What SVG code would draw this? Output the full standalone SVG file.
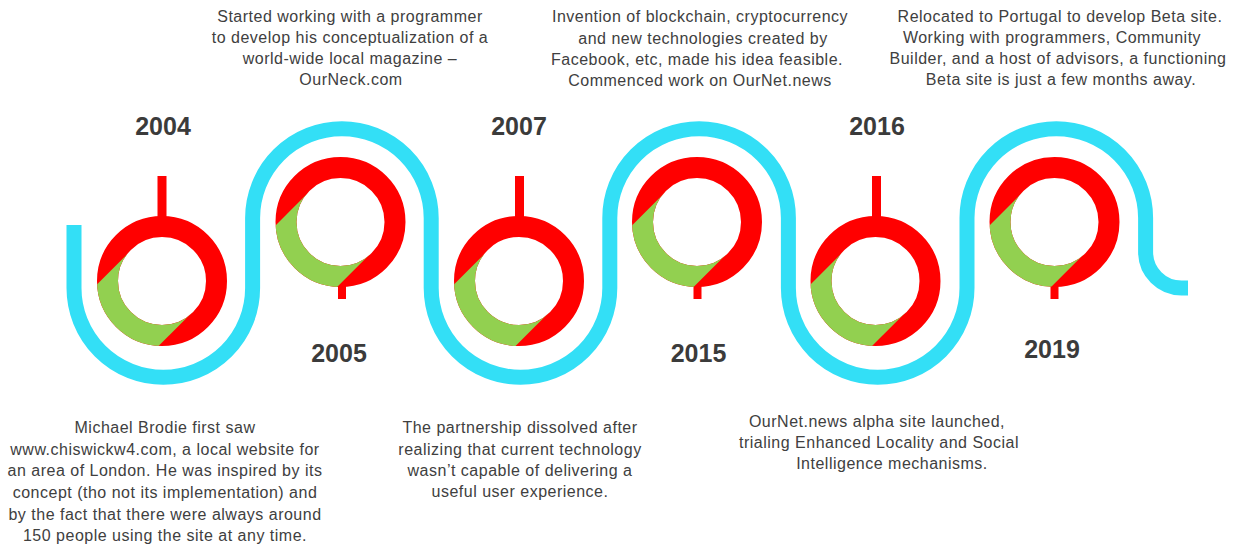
<svg xmlns="http://www.w3.org/2000/svg" width="1237" height="546" viewBox="0 0 1237 546">
<style>
.wave{fill:none;stroke:#33DFF6;stroke-width:15}
.yr{font-family:"Liberation Sans",Arial,sans-serif;font-weight:bold;font-size:25px;fill:#3B3B3B;text-anchor:middle}
.desc{font-family:"Liberation Sans",Arial,sans-serif;font-size:16px;letter-spacing:0.5px;fill:#404040;text-anchor:middle}
.stem{fill:#FF0000}
</style>
<defs>
<clipPath id="gclip" clipPathUnits="userSpaceOnUse"><polygon points="-30.8,-30.8 30.8,30.8 -40,101.5 -101.5,40"/></clipPath>
<g id="ring">
<circle r="54.5" fill="none" stroke="#FF0000" stroke-width="21"/>
<circle r="54.5" fill="none" stroke="#92D050" stroke-width="21" clip-path="url(#gclip)"/>
</g>
</defs>
<rect width="1237" height="546" fill="#FFFFFF"/>
<g id="connectors">
<path class="wave" d="M74,225 V288 A89.3,89.3 0 0 0 252.6,288 V218 A89.3,89.3 0 0 1 431.2,218 V288 A89.3,89.3 0 0 0 609.8,288 V218 A89.3,89.3 0 0 1 788.4,218 V288 A89.3,89.3 0 0 0 967,288 V218 A89.3,89.3 0 0 1 1145.6,218 V252 A36,36 0 0 0 1181.6,288 H1188"/>
</g>
<g id="m2004">
<rect class="stem" x="157.5" y="176" width="9" height="44"/>
<use href="#ring" transform="translate(162,281)"/>
<text class="yr" x="163" y="135">2004</text>
<text class="desc"><tspan x="165" y="433">Michael Brodie first saw</tspan><tspan x="165" y="455">www.chiswickw4.com, a local website for</tspan><tspan x="165" y="476">an area of London. He was inspired by its</tspan><tspan x="165" y="498">concept (tho not its implementation) and</tspan><tspan x="165" y="520">by the fact that there were always around</tspan><tspan x="165" y="541">150 people using the site at any time.</tspan></text>
</g>
<g id="m2005">
<rect class="stem" x="338" y="283" width="8" height="16"/>
<use href="#ring" transform="translate(340.5,222)"/>
<text class="yr" x="339" y="362">2005</text>
<text class="desc"><tspan x="350" y="22">Started working with a programmer</tspan><tspan x="350" y="43">to develop his conceptualization of a</tspan><tspan x="350" y="64">world-wide local magazine –</tspan><tspan x="351" y="85">OurNeck.com</tspan></text>
</g>
<g id="m2007">
<rect class="stem" x="515" y="176" width="9" height="44"/>
<use href="#ring" transform="translate(519,281)"/>
<text class="yr" x="519" y="135">2007</text>
<text class="desc"><tspan x="520" y="433">The partnership dissolved after</tspan><tspan x="520" y="455">realizing that current technology</tspan><tspan x="520" y="476">wasn’t capable of delivering a</tspan><tspan x="520" y="497">useful user experience.</tspan></text>
</g>
<g id="m2015">
<rect class="stem" x="693.5" y="283" width="8" height="16"/>
<use href="#ring" transform="translate(697,222)"/>
<text class="yr" x="698.5" y="362">2015</text>
<text class="desc"><tspan x="700" y="22">Invention of blockchain, cryptocurrency</tspan><tspan x="703" y="44">and new technologies created by</tspan><tspan x="697" y="65">Facebook, etc, made his idea feasible.</tspan><tspan x="700" y="86">Commenced work on OurNet.news</tspan></text>
</g>
<g id="m2016">
<rect class="stem" x="872" y="176" width="9" height="44"/>
<use href="#ring" transform="translate(875.5,281)"/>
<text class="yr" x="877" y="135">2016</text>
<text class="desc"><tspan x="877" y="427">OurNet.news alpha site launched,</tspan><tspan x="879" y="448">trialing Enhanced Locality and Social</tspan><tspan x="892" y="469">Intelligence mechanisms.</tspan></text>
</g>
<g id="m2019">
<rect class="stem" x="1050.5" y="283" width="8" height="16"/>
<use href="#ring" transform="translate(1054.5,222)"/>
<text class="yr" x="1052" y="358">2019</text>
<text class="desc"><tspan x="1060" y="22">Relocated to Portugal to develop Beta site.</tspan><tspan x="1052" y="43">Working with programmers, Community</tspan><tspan x="1058" y="64">Builder, and a host of advisors, a functioning</tspan><tspan x="1061" y="85">Beta site is just a few months away.</tspan></text>
</g>
</svg>
